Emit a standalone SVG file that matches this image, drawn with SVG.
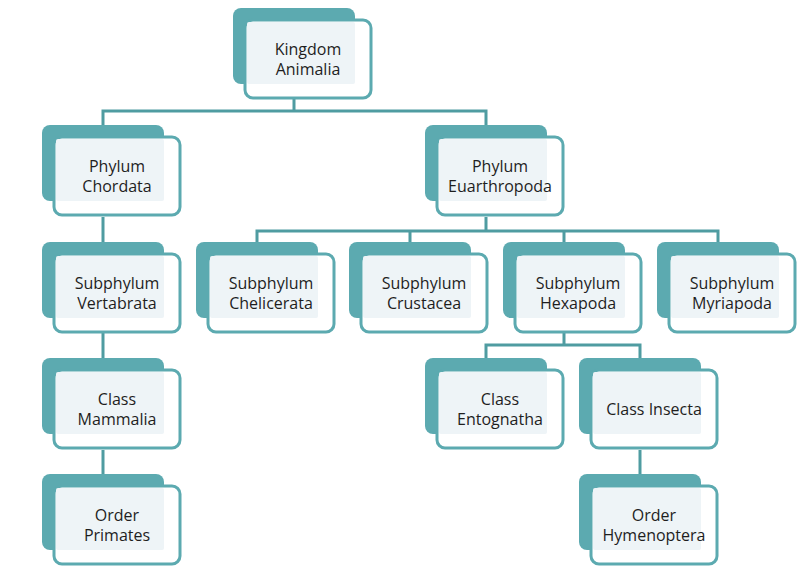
<svg xmlns="http://www.w3.org/2000/svg" width="809" height="572" viewBox="0 0 809 572">
<defs>
<style>
.back{fill:#5caab0}
.front{fill:#ffffff;stroke:#5caab0;stroke-width:3}
.inner{fill:#eef4f7}
.lbl{font-family:"Open Sans","Liberation Sans",sans-serif;font-size:16px;fill:#1e1e1e;text-anchor:middle}
.conn{fill:none;stroke:#4f9ca1;stroke-width:3}
</style>
</defs>
<rect width="809" height="572" fill="#ffffff"/>
<g id="connectors">
<path class="conn" d="M294 98V111M103 137V111H486V137"/>
<path class="conn" d="M486 217V231M257 254V231H718V254M410 231V254M564 231V254"/>
<path class="conn" d="M103 217V254M103 332V370M103 450V486"/>
<path class="conn" d="M564 332V345M486 369V345H640V369"/>
<path class="conn" d="M640 450V486"/>
</g>
<g id="kingdom-animalia" transform="translate(233,8)">
<rect class="back" width="122" height="76" rx="8"/>
<rect class="front" x="12" y="12" width="126" height="78" rx="8"/>
<rect class="inner" x="14" y="14" width="108" height="62" rx="2"/>
<text class="lbl" x="75" y="47">Kingdom</text>
<text class="lbl" x="75" y="67">Animalia</text>
</g>
<g id="phylum-chordata" transform="translate(42,125)">
<rect class="back" width="122" height="76" rx="8"/>
<rect class="front" x="12" y="12" width="126" height="78" rx="8"/>
<rect class="inner" x="14" y="14" width="108" height="62" rx="2"/>
<text class="lbl" x="75" y="47">Phylum</text>
<text class="lbl" x="75" y="67">Chordata</text>
</g>
<g id="phylum-euarthropoda" transform="translate(425,125)">
<rect class="back" width="122" height="76" rx="8"/>
<rect class="front" x="12" y="12" width="126" height="78" rx="8"/>
<rect class="inner" x="14" y="14" width="108" height="62" rx="2"/>
<text class="lbl" x="75" y="47">Phylum</text>
<text class="lbl" x="75" y="67">Euarthropoda</text>
</g>
<g id="subphylum-vertabrata" transform="translate(42,242)">
<rect class="back" width="122" height="76" rx="8"/>
<rect class="front" x="12" y="12" width="126" height="78" rx="8"/>
<rect class="inner" x="14" y="14" width="108" height="62" rx="2"/>
<text class="lbl" x="75" y="47">Subphylum</text>
<text class="lbl" x="75" y="67">Vertabrata</text>
</g>
<g id="subphylum-chelicerata" transform="translate(196,242)">
<rect class="back" width="122" height="76" rx="8"/>
<rect class="front" x="12" y="12" width="126" height="78" rx="8"/>
<rect class="inner" x="14" y="14" width="108" height="62" rx="2"/>
<text class="lbl" x="75" y="47">Subphylum</text>
<text class="lbl" x="75" y="67">Chelicerata</text>
</g>
<g id="subphylum-crustacea" transform="translate(349,242)">
<rect class="back" width="122" height="76" rx="8"/>
<rect class="front" x="12" y="12" width="126" height="78" rx="8"/>
<rect class="inner" x="14" y="14" width="108" height="62" rx="2"/>
<text class="lbl" x="75" y="47">Subphylum</text>
<text class="lbl" x="75" y="67">Crustacea</text>
</g>
<g id="subphylum-hexapoda" transform="translate(503,242)">
<rect class="back" width="122" height="76" rx="8"/>
<rect class="front" x="12" y="12" width="126" height="78" rx="8"/>
<rect class="inner" x="14" y="14" width="108" height="62" rx="2"/>
<text class="lbl" x="75" y="47">Subphylum</text>
<text class="lbl" x="75" y="67">Hexapoda</text>
</g>
<g id="subphylum-myriapoda" transform="translate(657,242)">
<rect class="back" width="122" height="76" rx="8"/>
<rect class="front" x="12" y="12" width="126" height="78" rx="8"/>
<rect class="inner" x="14" y="14" width="108" height="62" rx="2"/>
<text class="lbl" x="75" y="47">Subphylum</text>
<text class="lbl" x="75" y="67">Myriapoda</text>
</g>
<g id="class-mammalia" transform="translate(42,358)">
<rect class="back" width="122" height="76" rx="8"/>
<rect class="front" x="12" y="12" width="126" height="78" rx="8"/>
<rect class="inner" x="14" y="14" width="108" height="62" rx="2"/>
<text class="lbl" x="75" y="47">Class</text>
<text class="lbl" x="75" y="67">Mammalia</text>
</g>
<g id="class-entognatha" transform="translate(425,358)">
<rect class="back" width="122" height="76" rx="8"/>
<rect class="front" x="12" y="12" width="126" height="78" rx="8"/>
<rect class="inner" x="14" y="14" width="108" height="62" rx="2"/>
<text class="lbl" x="75" y="47">Class</text>
<text class="lbl" x="75" y="67">Entognatha</text>
</g>
<g id="class-insecta" transform="translate(579,358)">
<rect class="back" width="122" height="76" rx="8"/>
<rect class="front" x="12" y="12" width="126" height="78" rx="8"/>
<rect class="inner" x="14" y="14" width="108" height="62" rx="2"/>
<text class="lbl" x="75" y="57">Class Insecta</text>
</g>
<g id="order-primates" transform="translate(42,474)">
<rect class="back" width="122" height="76" rx="8"/>
<rect class="front" x="12" y="12" width="126" height="78" rx="8"/>
<rect class="inner" x="14" y="14" width="108" height="62" rx="2"/>
<text class="lbl" x="75" y="47">Order</text>
<text class="lbl" x="75" y="67">Primates</text>
</g>
<g id="order-hymenoptera" transform="translate(579,474)">
<rect class="back" width="122" height="76" rx="8"/>
<rect class="front" x="12" y="12" width="126" height="78" rx="8"/>
<rect class="inner" x="14" y="14" width="108" height="62" rx="2"/>
<text class="lbl" x="75" y="47">Order</text>
<text class="lbl" x="75" y="67">Hymenoptera</text>
</g>
</svg>
